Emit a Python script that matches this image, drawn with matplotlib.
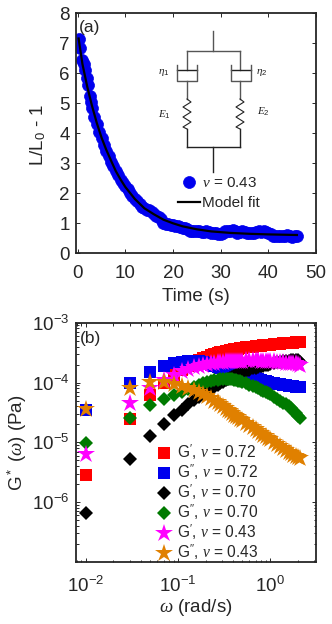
import numpy as np
import matplotlib
matplotlib.use('Agg')
import matplotlib.pyplot as plt
from matplotlib.lines import Line2D

plt.rcParams['font.family'] = ['Liberation Sans', 'DejaVu Sans']
plt.rcParams['mathtext.fontset'] = 'custom'
plt.rcParams['mathtext.rm'] = 'Liberation Sans'
plt.rcParams['mathtext.it'] = 'Liberation Serif:italic'
plt.rcParams['mathtext.bf'] = 'Liberation Sans:bold'

DARK = '#262626'

# panel a: creep recovery
t_data = [0.2, 0.4, 1.0, 1.3, 1.6, 1.9, 2.2, 2.5, 2.8, 3.1, 3.5, 4.0, 4.5, 5.0, 5.5, 6.0, 6.5, 7.0, 7.5, 8.0,
          8.5, 9.0, 9.5, 10.0, 10.5, 11.0, 11.5, 12.0, 12.5, 13.0, 13.5, 14.0, 14.5, 15.0, 15.5, 16.0, 16.5,
          17.0, 17.5, 18.0, 18.5, 19.0, 19.5, 20.0, 20.5, 21.0, 21.5, 22.0, 22.5, 23.0, 23.5, 24.0, 24.5,
          25.0, 25.5, 26.0, 26.5, 27.0, 27.5, 28.0, 28.5, 29.0, 29.5, 30.0, 30.5, 31.0, 31.5, 32.0, 32.5,
          33.0, 33.5, 34.0, 34.5, 35.0, 35.5, 36.0, 36.5, 37.0, 37.5, 38.0, 38.5, 39.0, 39.5, 40.0, 40.5,
          41.0, 41.5, 42.0, 42.5, 43.0, 43.5, 44.0, 44.5, 45.0, 45.5, 46.0]
y_data = [7.15, 6.85, 6.45, 6.3, 6.1, 5.85, 5.6, 5.25, 5.05, 4.85, 4.55, 4.3, 4.05, 3.85, 3.6, 3.4, 3.25, 3.05,
          2.9, 2.75, 2.6, 2.45, 2.35, 2.25, 2.12, 2.0, 1.9, 1.8, 1.72, 1.62, 1.55, 1.5, 1.45, 1.42, 1.36, 1.3,
          1.25, 1.2, 1.12, 1.0, 0.98, 0.96, 0.94, 0.93, 0.91, 0.9, 0.88, 0.85, 0.83, 0.8, 0.75, 0.72, 0.72,
          0.74, 0.72, 0.71, 0.7, 0.72, 0.7, 0.68, 0.68, 0.67, 0.65, 0.64, 0.67, 0.74, 0.75, 0.74, 0.76, 0.75,
          0.68, 0.7, 0.74, 0.7, 0.66, 0.67, 0.68, 0.66, 0.7, 0.72, 0.7, 0.72, 0.7, 0.66, 0.62, 0.58, 0.56,
          0.56, 0.58, 0.58, 0.57, 0.6, 0.58, 0.55, 0.57, 0.56]
t_fit = [0.2, 1, 2, 3, 4, 5, 6, 7, 8, 9, 10, 12, 14, 16, 18, 20, 22, 25, 28, 32, 36, 40, 46]
y_fit = [7.15, 6.3, 5.55, 4.91, 4.34, 3.85, 3.44, 3.08, 2.73, 2.45, 2.2, 1.8, 1.49, 1.29, 1.11, 0.99, 0.89,
         0.79, 0.72, 0.67, 0.64, 0.62, 0.6]

# panel b: moduli, values in units of 1e-4 Pa
omega = [0.01, 0.03, 0.05, 0.07, 0.09, 0.11, 0.13, 0.15, 0.17, 0.19, 0.21, 0.23, 0.25, 0.27, 0.29, 0.31, 0.33,
         0.35, 0.37, 0.39, 0.41, 0.43, 0.45, 0.47,
         0.5, 0.55, 0.6, 0.65, 0.7, 0.75, 0.8, 0.85, 0.9, 0.95, 1.0, 1.1, 1.2, 1.3, 1.4, 1.5, 1.6, 1.7, 1.8,
         1.9, 2.0, 2.1]
g1_72 = [.029, .245, .62, 1.0, 1.35, 1.65, 1.9, 2.15, 2.35, 2.55, 2.7, 2.85, 3.0, 3.1, 3.2, 3.28, 3.35, 3.43,
         3.5, 3.55, 3.6, 3.65, 3.7, 3.75, 3.8, 3.85,
         3.95, 4.0, 4.05, 4.1, 4.15, 4.2, 4.25, 4.25, 4.3, 4.35, 4.4, 4.45, 4.5, 4.55, 4.6, 4.6, 4.65, 4.7, 4.75, 4.8]
g2_72 = [.35, 1.0, 1.5, 1.9, 2.1, 2.2, 2.3, 2.3, 2.25, 2.2, 2.1, 2.0, 1.9, 1.82, 1.75, 1.7, 1.65, 1.6, 1.55,
         1.51, 1.48, 1.45, 1.42, 1.39, 1.35, 1.3,
         1.25, 1.2, 1.17, 1.13, 1.1, 1.07, 1.05, 1.03, 1.0, .98, .95, .93, .91, .9, .88, .87, .86, .85, .84, .83]
g1_70 = [.0067, .052, .128, .2, .29, .35, .43, .51, .58, .65, .72, .78, .85, .92, .98, 1.04, 1.1, 1.15, 1.2,
         1.25, 1.3, 1.35, 1.4, 1.45, 1.5, 1.58,
         1.65, 1.72, 1.78, 1.83, 1.88, 1.92, 1.97, 2.0, 2.05, 2.12, 2.18, 2.22, 2.26, 2.3, 2.33, 2.36, 2.38, 2.4, 2.42, 2.2]
g2_70 = [.099, .26, .42, .54, .62, .7, .78, .85, .92, .97, 1.02, 1.06, 1.1, 1.12, 1.13, 1.14, 1.15, 1.15, 1.15,
         1.14, 1.12, 1.1, 1.08, 1.05, 1.02, .97,
         .92, .88, .84, .8, .76, .73, .7, .67, .64, .58, .54, .5, .46, .43, .4, .37, .34, .31, .28, .26]
g1_43 = [.064, .45, .8, 1.1, 1.35, 1.55, 1.7, 1.82, 1.92, 2.0, 2.05, 2.1, 2.15, 2.18, 2.2, 2.23, 2.25, 2.27, 2.28,
         2.29, 2.3, 2.31, 2.32, 2.32, 2.33, 2.34,
         2.35, 2.35, 2.35, 2.35, 2.33, 2.32, 2.3, 2.3, 2.28, 2.25, 2.22, 2.2, 2.18, 2.16, 2.14, 2.12, 2.1, 2.08, 2.05, 2.0]
g2_43 = [.36, .82, 1.03, 1.03, .95, .88, .82, .75, .69, .64, .6, .55, .5, .465, .43, .4, .37, .35, .33,
         .31, .29, .277, .265, .25, .235, .21,
         .195, .18, .165, .155, .145, .135, .128, .12, .113, .103, .093, .086, .08, .075, .07, .066, .062, .059, .056, .054]

W, H = 332, 624
fig = plt.figure(figsize=(W / 100, H / 100), dpi=100)


def px_axes(l, t, r, b):
    return fig.add_axes([l / W, 1 - b / H, (r - l) / W, (b - t) / H])


def style(ax, xpad):
    for s in ax.spines.values():
        s.set_color(DARK)
        s.set_linewidth(1.3)
    ax.tick_params(which='both', direction='in', top=True, right=True, color=DARK, labelcolor=DARK,
                   labelsize=13.5, width=0.7)
    ax.tick_params(axis='x', which='both', pad=xpad)
    ax.tick_params(axis='y', which='both', pad=4.5)
    ax.tick_params(which='major', length=3)
    ax.tick_params(which='minor', length=1.8)


# ---- (a)
ax1 = px_axes(76, 13, 316, 253)
ax1.plot(t_data, y_data, 'o', color='#0000ee', ms=8.6, label=r'$\nu$ = 0.43', mec='#0000ee', mew=0.5)
ax1.plot(t_fit, y_fit, '-', color='black', lw=1.6, label='Model fit')
ax1.set_xlim(-0.35, 50)
ax1.set_ylim(0, 8)
ax1.set_xticks([0, 10, 20, 30, 40, 50])
ax1.set_yticks(range(9))
style(ax1, 9)
ax1.set_xlabel('Time (s)', fontsize=13.5, color=DARK, labelpad=4)
ax1.set_ylabel('L/L$_0$ - 1', fontsize=13.5, color=DARK)
ax1.yaxis.set_label_coords(-0.115, 0.49)
ax1.text(0.012, 0.94, '(a)', transform=ax1.transAxes, fontsize=12.5, color=DARK, va='center')
ax1.legend(loc='upper left', bbox_to_anchor=(0.425, 0.32), frameon=False, fontsize=11, handlelength=1.45,
           handletextpad=0.15, labelspacing=0.38, borderpad=0, borderaxespad=0, labelcolor=DARK)

# ---- (b)
om = np.array(omega)
ax2 = px_axes(76, 322.7, 316, 562)
series = [
    (g1_72, 's', '#ff0000', 8.2, r"G$'$, $\nu$ = 0.72"),
    (g2_72, 's', '#0000ee', 8.2, r"G$''$, $\nu$ = 0.72"),
    (g1_70, 'D', '#000000', 7.2, r"G$'$, $\nu$ = 0.70"),
    (g2_70, 'D', '#007a00', 7.2, r"G$''$, $\nu$ = 0.70"),
    (g1_43, '*', '#ff00ff', 13.5, r"G$'$, $\nu$ = 0.43"),
    (g2_43, '*', '#e08000', 13.5, r"G$''$, $\nu$ = 0.43"),
]
for vals, mk, col, ms, lab in series:
    ax2.plot(om, np.array(vals) * 1e-4, mk, color=col, ms=ms, mew=0, label=lab)
ax2.set_xscale('log')
ax2.set_yscale('log')
ax2.set_xlim(10 ** -2.105, 10 ** 0.5)
ax2.set_ylim(1e-7, 1e-3)
ax2.set_yticks([1e-6, 1e-5, 1e-4, 1e-3])
style(ax2, 10)
ax2.set_xlabel(r'$\omega$ (rad/s)', fontsize=13.5, color=DARK, labelpad=1)
ax2.set_ylabel(r'G$^*$ ($\omega$) (Pa)', fontsize=13.5, color=DARK)
ax2.yaxis.set_label_coords(-0.195, 0.5)
ax2.text(0.015, 0.935, '(b)', transform=ax2.transAxes, fontsize=12.5, color=DARK, va='center')
ax2.legend(loc='lower left', bbox_to_anchor=(0.335, 0.0), frameon=False, fontsize=11.2, handlelength=1.0,
           handletextpad=0.35, labelspacing=0.0, borderpad=0, borderaxespad=0, labelcolor=DARK)

# ---- inset sketch, drawn in pixel coordinates of the figure
sk = fig.add_axes([0, 0, 1, 1], facecolor='none')
sk.set_xlim(0, W)
sk.set_ylim(H, 0)
sk.axis('off')


def ln(xs, ys, c='#555555', lw=1.0):
    sk.add_line(Line2D(xs, ys, color=c, lw=lw))


def spring(x, top, bot):
    ys = [top, top + 3, top + 8, top + 13, top + 18, top + 23, top + 28, bot]
    xs = [x, x + 4, x - 4, x + 4, x - 4, x + 4, x - 4, x]
    ln(xs, ys, '#222222', 0.8)


ln([213, 213], [31, 51])
ln([187, 240], [51, 51])
for xc, xl, xr in [(187, 176.5, 196.5), (240, 230.5, 250.5)]:
    ln([xc, xc], [51, 70])
    ln([xl, xr], [70, 70], '#222222')
    ln([xl, xl, xr, xr], [65, 81, 81, 65])
    ln([xc, xc], [81, 99])
    spring(xc, 99, 129)
    ln([xc, xc], [129, 147], '#222222')
ln([187, 240], [147, 147], '#222222')
ln([213, 213], [147, 172], '#222222')
for s, x, y in [(r'$\eta_1$', 164, 72), (r'$\eta_2$', 262, 72), (r'$E_1$', 164, 115), (r'$E_2$', 263, 112)]:
    sk.text(x, y, s, fontsize=8, ha='center', va='center', color='#222222')

fig.savefig('out.png', dpi=100)
